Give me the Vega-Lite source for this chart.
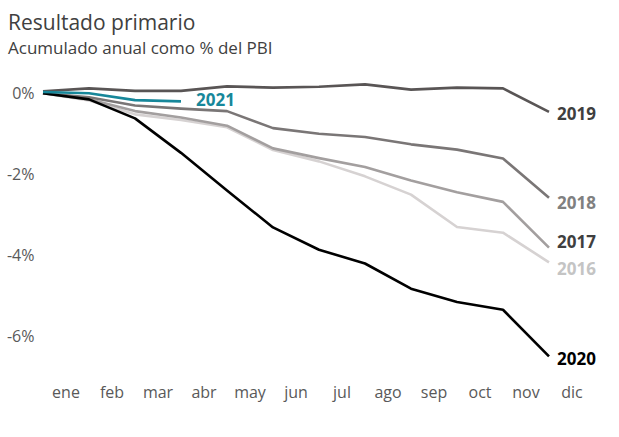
{
  "$schema": "https://vega.github.io/schema/vega-lite/v6.json",
  "width": 552,
  "height": 304,
  "autosize": {"type": "none"},
  "padding": {"left": 43, "top": 73, "right": 24, "bottom": 60},
  "background": "white",
  "title": {
    "text": "Resultado primario",
    "subtitle": "Acumulado anual como % del PBI",
    "anchor": "start",
    "frame": "group",
    "dx": -35,
    "offset": 16,
    "font": "Open Sans",
    "subtitleFont": "Open Sans",
    "fontSize": 21,
    "subtitleFontSize": 17,
    "fontWeight": "normal",
    "color": "#404040",
    "subtitleColor": "#404040",
    "subtitlePadding": 7
  },
  "config": {
    "view": {"stroke": null},
    "axis": {"labelFont": "Open Sans", "labelFontSize": 16, "labelColor": "#595959", "domain": false, "ticks": false, "grid": false, "title": null}
  },
  "datasets": {
    "series": [
      {"year": "2016", "month": "ene", "v": 0}, {"year": "2016", "month": "feb", "v": -0.18}, {"year": "2016", "month": "mar", "v": -0.52}, {"year": "2016", "month": "abr", "v": -0.66}, {"year": "2016", "month": "may", "v": -0.84}, {"year": "2016", "month": "jun", "v": -1.4}, {"year": "2016", "month": "jul", "v": -1.68}, {"year": "2016", "month": "ago", "v": -2.05}, {"year": "2016", "month": "sep", "v": -2.5}, {"year": "2016", "month": "oct", "v": -3.3}, {"year": "2016", "month": "nov", "v": -3.44}, {"year": "2016", "month": "dic", "v": -4.17},
      {"year": "2017", "month": "ene", "v": 0}, {"year": "2017", "month": "feb", "v": -0.15}, {"year": "2017", "month": "mar", "v": -0.44}, {"year": "2017", "month": "abr", "v": -0.6}, {"year": "2017", "month": "may", "v": -0.8}, {"year": "2017", "month": "jun", "v": -1.36}, {"year": "2017", "month": "jul", "v": -1.6}, {"year": "2017", "month": "ago", "v": -1.82}, {"year": "2017", "month": "sep", "v": -2.15}, {"year": "2017", "month": "oct", "v": -2.44}, {"year": "2017", "month": "nov", "v": -2.68}, {"year": "2017", "month": "dic", "v": -3.81},
      {"year": "2018", "month": "ene", "v": 0}, {"year": "2018", "month": "feb", "v": -0.1}, {"year": "2018", "month": "mar", "v": -0.3}, {"year": "2018", "month": "abr", "v": -0.38}, {"year": "2018", "month": "may", "v": -0.44}, {"year": "2018", "month": "jun", "v": -0.86}, {"year": "2018", "month": "jul", "v": -1.0}, {"year": "2018", "month": "ago", "v": -1.08}, {"year": "2018", "month": "sep", "v": -1.26}, {"year": "2018", "month": "oct", "v": -1.39}, {"year": "2018", "month": "nov", "v": -1.61}, {"year": "2018", "month": "dic", "v": -2.58},
      {"year": "2019", "month": "ene", "v": 0.05}, {"year": "2019", "month": "feb", "v": 0.12}, {"year": "2019", "month": "mar", "v": 0.06}, {"year": "2019", "month": "abr", "v": 0.06}, {"year": "2019", "month": "may", "v": 0.17}, {"year": "2019", "month": "jun", "v": 0.14}, {"year": "2019", "month": "jul", "v": 0.16}, {"year": "2019", "month": "ago", "v": 0.22}, {"year": "2019", "month": "sep", "v": 0.09}, {"year": "2019", "month": "oct", "v": 0.14}, {"year": "2019", "month": "nov", "v": 0.12}, {"year": "2019", "month": "dic", "v": -0.46},
      {"year": "2020", "month": "ene", "v": 0}, {"year": "2020", "month": "feb", "v": -0.15}, {"year": "2020", "month": "mar", "v": -0.62}, {"year": "2020", "month": "abr", "v": -1.47}, {"year": "2020", "month": "may", "v": -2.4}, {"year": "2020", "month": "jun", "v": -3.31}, {"year": "2020", "month": "jul", "v": -3.86}, {"year": "2020", "month": "ago", "v": -4.2}, {"year": "2020", "month": "sep", "v": -4.82}, {"year": "2020", "month": "oct", "v": -5.15}, {"year": "2020", "month": "nov", "v": -5.34}, {"year": "2020", "month": "dic", "v": -6.49},
      {"year": "2021", "month": "ene", "v": 0.03}, {"year": "2021", "month": "feb", "v": 0.0}, {"year": "2021", "month": "mar", "v": -0.17}, {"year": "2021", "month": "abr", "v": -0.2}
    ],
    "endLabels": [
      {"year": "2019", "month": "dic", "v": -0.54},
      {"year": "2018", "month": "dic", "v": -2.74},
      {"year": "2017", "month": "dic", "v": -3.7},
      {"year": "2016", "month": "dic", "v": -4.37},
      {"year": "2020", "month": "dic", "v": -6.59}
    ],
    "label2021": [
      {"year": "2021", "month": "abr", "v": -0.2}
    ]
  },
  "encoding": {
    "x": {
      "field": "month",
      "type": "ordinal",
      "bandPosition": 0,
      "sort": ["ene", "feb", "mar", "abr", "may", "jun", "jul", "ago", "sep", "oct", "nov", "dic"],
      "scale": {"type": "band", "domain": ["ene", "feb", "mar", "abr", "may", "jun", "jul", "ago", "sep", "oct", "nov", "dic"], "paddingInner": 0, "paddingOuter": 0},
      "axis": {"labelAngle": 0, "labelPadding": 7, "bandPosition": 0.5}
    },
    "y": {
      "field": "v",
      "type": "quantitative",
      "scale": {"domain": [-7, 0.5], "nice": false, "zero": false},
      "axis": {"values": [0, -2, -4, -6], "labelExpr": "datum.value + '%'", "labelPadding": 9}
    }
  },
  "layer": [
    {
      "data": {"name": "series"},
      "mark": {"type": "line", "strokeWidth": 2.6, "strokeJoin": "round"},
      "encoding": {
        "color": {
          "field": "year",
          "type": "nominal",
          "legend": null,
          "scale": {"domain": ["2016", "2017", "2018", "2019", "2020", "2021"], "range": ["#d6d2d2", "#a39f9f", "#7a7676", "#595555", "#000000", "#17879a"]}
        }
      }
    },
    {
      "data": {"name": "endLabels"},
      "mark": {"type": "text", "align": "left", "baseline": "middle", "dx": 8, "font": "Open Sans", "fontSize": 17, "fontWeight": "bold"},
      "encoding": {
        "text": {"field": "year"},
        "color": {
          "field": "year",
          "type": "nominal",
          "legend": null,
          "scale": {"domain": ["2016", "2017", "2018", "2019", "2020", "2021"], "range": ["#c4c4c4", "#3f3f3f", "#808080", "#3f3f3f", "#000000", "#17879a"]}
        }
      }
    },
    {
      "data": {"name": "label2021"},
      "mark": {"type": "text", "align": "left", "baseline": "middle", "dx": 15, "font": "Open Sans", "fontSize": 17, "fontWeight": "bold", "color": "#17879a"},
      "encoding": {"text": {"field": "year"}}
    }
  ],
  "resolve": {"scale": {"color": "independent"}}
}
